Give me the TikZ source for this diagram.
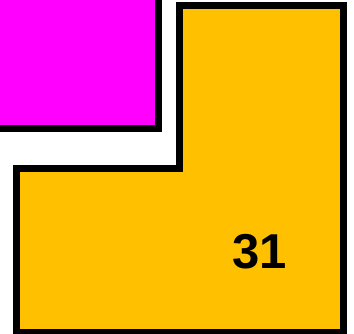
\documentclass[tikz,border=0pt]{standalone}
\usepackage{fontspec}
\setmainfont{Liberation Sans}
\begin{document}
\begin{tikzpicture}[x=1pt,y=-1pt,
  wall/.style={draw=black,line width=6.5pt,line join=miter},
  lbl/.style={inner sep=0pt,font=\fontsize{49}{49}\selectfont\bfseries}]
\useasboundingbox (0,0) rectangle (354,334);
\clip (0,0) rectangle (354,334);
\fill[white] (0,0) rectangle (354,334);
\path[wall,fill={rgb,255:red,255;green,0;blue,255}] (-20,-20) rectangle (158.5,128.5);
\path[wall,fill={rgb,255:red,255;green,192;blue,0}]
  (179.5,5.5) -- (343.5,5.5) -- (343.5,332.5) -- (16.5,332.5) -- (16.5,168.5) -- (179.5,168.5) -- cycle;
\node[lbl] (n31) at (260,251.5) {31};
\end{tikzpicture}
\end{document}
